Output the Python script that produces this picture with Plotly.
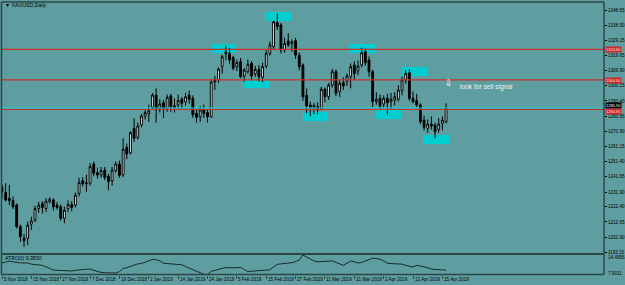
import plotly.graph_objects as go

# ---------------- data ----------------
opens = [1235.0, 1231.5, 1227.8, 1226.3, 1223.5, 1209.6, 1202.1, 1202.1, 1211.2, 1213.9,
         1221.3, 1224.5, 1221.3, 1225.6, 1226.7, 1223.5, 1222.4, 1215.0, 1221.3, 1223.8,
         1223.5, 1231.0, 1239.2, 1237.2, 1237.5, 1249.9, 1244.3, 1242.8, 1246.0, 1242.0,
         1239.2, 1245.6, 1249.9, 1242.8, 1260.6, 1257.1, 1272.8, 1267.0, 1275.0, 1280.7,
         1282.0, 1286.3, 1294.2, 1285.7, 1289.3, 1285.7, 1293.6, 1286.3, 1287.8, 1291.5,
         1289.9, 1294.2, 1292.1, 1282.4, 1280.3, 1284.6, 1282.9, 1280.3, 1303.9, 1303.9,
         1312.4, 1320.6, 1321.0, 1318.4, 1312.4, 1315.6, 1306.4, 1309.2, 1314.6, 1307.7,
         1310.7, 1305.6, 1312.8, 1321.0, 1325.2, 1340.7, 1339.2, 1323.1, 1328.9, 1327.4,
         1329.1, 1319.9, 1313.5, 1294.0, 1287.8, 1286.3, 1286.7, 1285.7, 1297.9, 1293.1,
         1300.6, 1309.2, 1296.3, 1302.2, 1302.8, 1306.0, 1313.5, 1309.8, 1313.5, 1322.1,
         1316.7, 1309.2, 1289.9, 1292.1, 1288.4, 1292.1, 1289.9, 1291.0, 1291.5, 1297.0,
         1303.9, 1308.5, 1292.1, 1290.6, 1287.8, 1278.1, 1272.8, 1275.5, 1274.9, 1272.1,
         1276.0, 1277.0]
highs = [1237.0, 1237.5, 1236.5, 1229.0, 1224.5, 1211.0, 1205.0, 1212.8, 1216.0, 1223.0,
         1225.5, 1226.0, 1228.0, 1228.5, 1228.0, 1225.5, 1224.0, 1222.5, 1226.5, 1226.0,
         1231.5, 1241.0, 1241.5, 1243.0, 1250.5, 1251.5, 1247.5, 1248.0, 1248.0, 1243.5,
         1248.0, 1251.5, 1252.0, 1266.4, 1263.0, 1271.0, 1279.3, 1276.5, 1282.0, 1284.5,
         1288.0, 1295.5, 1298.5, 1291.5, 1291.0, 1294.5, 1295.0, 1292.0, 1294.5, 1293.0,
         1295.5, 1297.0, 1294.0, 1284.5, 1287.0, 1288.0, 1285.0, 1304.0, 1306.5, 1312.0,
         1320.0, 1326.0, 1324.5, 1319.5, 1317.0, 1318.0, 1311.5, 1317.0, 1316.0, 1313.0,
         1313.5, 1315.0, 1323.0, 1328.5, 1342.0, 1346.7, 1340.5, 1331.0, 1334.0, 1330.0,
         1331.0, 1321.5, 1314.5, 1298.5, 1290.0, 1289.0, 1289.5, 1299.5, 1299.0, 1302.0,
         1311.0, 1310.5, 1304.0, 1305.5, 1308.0, 1314.5, 1316.0, 1316.5, 1324.6, 1324.0,
         1319.0, 1310.5, 1296.0, 1294.5, 1294.0, 1295.0, 1295.5, 1296.0, 1300.5, 1306.0,
         1310.3, 1311.0, 1296.5, 1295.0, 1289.0, 1281.0, 1278.5, 1280.5, 1276.5, 1279.5,
         1280.5, 1288.9]
lows = [1227.8, 1225.8, 1223.5, 1221.0, 1208.5, 1199.9, 1196.5, 1197.8, 1207.5, 1212.5,
        1218.5, 1218.0, 1219.0, 1224.5, 1220.0, 1220.5, 1213.5, 1211.8, 1219.0, 1219.5,
        1222.0, 1229.0, 1235.5, 1232.0, 1236.0, 1242.0, 1240.5, 1241.0, 1239.5, 1233.0,
        1236.0, 1244.5, 1241.0, 1241.5, 1253.0, 1256.0, 1264.0, 1265.5, 1273.5, 1278.5,
        1277.0, 1285.0, 1276.4, 1283.0, 1279.5, 1283.5, 1283.5, 1283.0, 1285.5, 1285.5,
        1287.5, 1288.5, 1279.5, 1276.5, 1277.0, 1279.5, 1276.5, 1279.5, 1297.5, 1302.0,
        1308.0, 1316.5, 1314.0, 1310.0, 1309.5, 1305.0, 1302.8, 1308.0, 1303.5, 1306.0,
        1303.0, 1302.5, 1311.5, 1319.5, 1323.5, 1336.0, 1321.0, 1321.5, 1325.0, 1322.0,
        1317.5, 1310.0, 1290.5, 1282.5, 1280.5, 1282.0, 1281.5, 1284.5, 1289.5, 1291.0,
        1299.0, 1293.5, 1293.0, 1297.5, 1300.0, 1298.5, 1304.0, 1307.0, 1312.0, 1313.0,
        1306.0, 1286.5, 1288.0, 1284.5, 1286.0, 1281.5, 1285.0, 1287.5, 1290.0, 1294.0,
        1301.5, 1290.5, 1289.0, 1286.5, 1275.5, 1271.5, 1270.0, 1272.0, 1266.4, 1270.0,
        1271.5, 1276.0]
closes = [1232.0, 1226.7, 1226.3, 1222.4, 1209.6, 1203.2, 1200.6, 1210.6, 1213.3, 1221.3,
          1223.5, 1222.0, 1226.0, 1227.3, 1222.4, 1222.0, 1215.0, 1220.2, 1223.8, 1222.0,
          1229.9, 1237.9, 1237.1, 1237.8, 1248.2, 1243.9, 1242.8, 1245.6, 1241.3, 1238.5,
          1246.0, 1249.9, 1242.6, 1259.3, 1256.3, 1270.0, 1266.4, 1274.3, 1280.7, 1282.9,
          1284.1, 1294.2, 1284.6, 1288.4, 1285.7, 1292.8, 1286.7, 1287.3, 1290.6, 1288.9,
          1293.1, 1291.5, 1281.4, 1279.9, 1284.6, 1282.4, 1280.3, 1302.5, 1302.8, 1310.9,
          1318.8, 1322.0, 1316.7, 1311.4, 1315.0, 1306.0, 1310.3, 1314.0, 1306.4, 1310.7,
          1306.0, 1312.4, 1321.0, 1326.4, 1341.3, 1338.1, 1323.1, 1327.4, 1326.4, 1328.5,
          1319.9, 1312.4, 1293.1, 1287.2, 1286.3, 1287.5, 1284.6, 1297.9, 1293.1, 1300.6,
          1309.2, 1295.3, 1301.7, 1300.0, 1306.4, 1312.4, 1308.1, 1312.8, 1321.4, 1315.0,
          1309.2, 1289.9, 1291.5, 1287.2, 1292.1, 1289.3, 1291.5, 1293.1, 1297.4, 1303.9,
          1308.1, 1292.1, 1289.9, 1287.8, 1277.0, 1273.5, 1275.5, 1274.3, 1270.6, 1275.5,
          1278.1, 1285.9]
atr = [11.8, 12.1, 12.4, 12.2, 11.9, 11.8, 11.8, 11.8, 11.4, 11.3,
       11.1, 11.0, 10.5, 9.9, 9.4, 9.3, 9.2, 9.1, 9.0, 9.1,
       9.3, 9.5, 9.6, 9.7, 9.7, 9.3, 8.8, 8.6, 8.5, 8.4,
       8.3, 8.4, 8.9, 9.9, 10.2, 10.6, 11.1, 11.5, 11.6, 12.0,
       12.4, 13.0, 12.9, 12.5, 11.7, 11.6, 11.5, 11.4, 11.4, 11.2,
       10.6, 10.0, 9.5, 9.0, 8.5, 8.0, 7.9011, 9.0, 9.3, 9.7,
       10.0, 10.2, 10.3, 10.2, 10.2, 10.3, 9.6, 8.9, 9.0, 9.1,
       9.2, 9.3, 9.4, 9.5, 10.5, 11.3, 11.5, 11.6, 11.8, 11.9,
       12.3, 12.8, 14.4956, 13.9, 13.3, 12.5, 12.2, 12.3, 12.3, 12.4,
       12.5, 12.0, 11.4, 11.0, 11.7, 12.5, 12.2, 11.8, 12.0, 12.5,
       12.9, 13.4, 13.3, 13.1, 12.5, 11.7, 11.6, 11.5, 11.4, 11.4,
       11.0, 10.7, 10.4, 11.0, 10.8, 10.5, 10.2, 9.7, 9.6, 9.4,
       9.3, 9.383]

date_tick_bars = [0, 8, 16, 24, 32, 40, 48, 56, 64, 72, 80, 88, 96, 104, 112, 120]
date_tick_text = ["5 Nov 2018", "15 Nov 2018", "27 Nov 2018", "7 Dec 2018", "19 Dec 2018",
                  "2 Jan 2019", "14 Jan 2019", "24 Jan 2019", "5 Feb 2019", "15 Feb 2019",
                  "27 Feb 2019", "11 Mar 2019", "21 Mar 2019", "2 Apr 2019", "12 Apr 2019",
                  "25 Apr 2019"]
price_ticks = [1348.65, 1338.90, 1329.15, 1319.65, 1309.90, 1300.15, 1290.40, 1280.65,
               1270.90, 1261.15, 1251.40, 1241.65, 1231.90, 1222.40, 1212.65, 1202.90, 1193.15]
level_lines = [1323.60, 1304.00, 1284.95]
atr_min, atr_max = 7.9011, 14.4956

# ---------------- geometry helpers ----------------
W, H = 625, 285
def PX(p): return p / W
def PY(p): return 1 - p / H

bar_step = 3.67      # px per bar
bar0_px = 2.0        # px of bar 0
left_px, right_px = 1.5, 604.0
top_px, main_bot_px = 2.0, 253.0
ind_top_px, ind_bot_px = 255.0, 274.5
ppp = 0.64256        # price per pixel
def price_at(py): return 1348.65 - (py - 10.3) * ppp

xr = [(left_px - bar0_px) / bar_step, (right_px - bar0_px) / bar_step]
xs = list(range(len(opens)))

BG = "#5F9EA0"
DARK = "#2c4646"
FONT = "Liberation Sans"

fig = go.Figure()
fig.add_trace(go.Candlestick(
    x=xs, open=opens, high=highs, low=lows, close=closes,
    increasing=dict(line=dict(color="black", width=1), fillcolor="white"),
    decreasing=dict(line=dict(color="black", width=1), fillcolor="black"),
    whiskerwidth=0, showlegend=False, hoverinfo="skip", xaxis="x", yaxis="y"))
fig.add_trace(go.Scatter(
    x=xs, y=atr, mode="lines", line=dict(color="#1a2a2a", width=1),
    showlegend=False, hoverinfo="skip", xaxis="x2", yaxis="y2"))

shapes = []
# cyan swing rectangles (pixel boxes converted to bar index / price)
rects = [((265, 12), (292, 21)), ((211, 44), (236, 53)), ((244, 80), (269, 88)),
         ((303, 112), (328, 121)), ((350, 44), (376, 53)), ((376, 110), (402, 119)),
         ((402, 67), (427, 76)), ((423, 135), (449, 144))]
for (x0, y0), (x1, y1) in rects:
    shapes.append(dict(type="rect", xref="x", yref="y",
                       x0=(x0 - bar0_px) / bar_step, x1=(x1 - bar0_px) / bar_step,
                       y0=price_at(y0), y1=price_at(y1),
                       fillcolor="#00CED1", line=dict(width=0), layer="below"))
# horizontal level lines
for lv in level_lines:
    shapes.append(dict(type="line", xref="paper", yref="y", x0=PX(left_px), x1=PX(right_px),
                       y0=lv, y1=lv, line=dict(color="#c8302a", width=1.2)))
# bid line
shapes.append(dict(type="line", xref="paper", yref="y", x0=PX(left_px), x1=PX(right_px),
                   y0=closes[-1], y1=closes[-1], line=dict(color="#10d8e0", width=1)))
# frame
for (xa, ya, xb, yb, w) in [(left_px, top_px, right_px, top_px, 1.5),
                            (left_px, top_px, left_px, ind_bot_px, 1.5),
                            (right_px, top_px, right_px, ind_bot_px, 1.5),
                            (left_px, 254.0, right_px, 254.0, 2.2),
                            (left_px, ind_bot_px, right_px, ind_bot_px, 1.5)]:
    shapes.append(dict(type="line", xref="paper", yref="paper",
                       x0=PX(xa), y0=PY(ya), x1=PX(xb), y1=PY(yb),
                       line=dict(color=DARK, width=w)))

ann = []
ann.append(dict(text="▼ XAUUSD,Daily", x=PX(2.5), y=PY(5.5), xref="paper", yref="paper",
                xanchor="left", yanchor="middle", showarrow=False,
                font=dict(family=FONT, size=5.2, color="black")))
ann.append(dict(text="ATR(10) 9.3830", x=PX(2.5), y=PY(257.8), xref="paper", yref="paper",
                xanchor="left", yanchor="middle", showarrow=False,
                font=dict(family=FONT, size=5.2, color="black")))
ann.append(dict(text="⇩", x=PX(448.5), y=PY(82.5), xref="paper", yref="paper",
                xanchor="center", yanchor="middle", showarrow=False,
                font=dict(family="DejaVu Sans", size=9, color="white")))
ann.append(dict(text="look for sell signal", x=PX(457.5), y=PY(86.8), xref="paper", yref="paper",
                xanchor="left", yanchor="middle", showarrow=False,
                font=dict(family=FONT, size=6.6, color="#eef4f4")))
# bid price box (above) and level boxes
ann.append(dict(text=f"{closes[-1]:.2f}", x=PX(604.5), y=PY(105.9), xref="paper", yref="paper",
                xanchor="left", yanchor="middle", showarrow=False, bgcolor="black",
                borderpad=0, font=dict(family=FONT, size=4.0, color="white")))
level_box_px = [49.3, 80.0, 111.0]
for lv, bpx in zip(level_lines, level_box_px):
    ann.append(dict(text=f"{lv:.2f}", x=PX(604.5), y=PY(bpx), xref="paper", yref="paper",
                    xanchor="left", yanchor="middle", showarrow=False, bgcolor="#cc2a2a",
                    borderpad=0, font=dict(family=FONT, size=4.0, color="#ffe0e0")))
ann.append(dict(text=f"{atr_max:.4f}", x=PX(605.5), y=PY(257.3), xref="paper", yref="paper",
                xanchor="left", yanchor="middle", showarrow=False,
                font=dict(family=FONT, size=4.6, color="black")))
ann.append(dict(text=f"{atr_min:.4f}", x=PX(605.5), y=PY(273.3), xref="paper", yref="paper",
                xanchor="left", yanchor="middle", showarrow=False,
                font=dict(family=FONT, size=4.6, color="black")))
for b, t in zip(date_tick_bars, date_tick_text):
    ann.append(dict(text=t, x=b, y=PY(279.5), xref="x2", yref="paper",
                    xanchor="left", yanchor="middle", xshift=-0.5, showarrow=False,
                    font=dict(family=FONT, size=4.6, color="black")))

fig.update_layout(
    width=W, height=H, margin=dict(l=0, r=0, t=0, b=0),
    paper_bgcolor=BG, plot_bgcolor=BG, showlegend=False,
    boxgap=0.3,
    xaxis=dict(domain=[PX(left_px), PX(right_px)], range=xr, anchor="y",
               showticklabels=False, ticks="", showgrid=False, zeroline=False,
               showline=False, rangeslider=dict(visible=False), fixedrange=True),
    yaxis=dict(domain=[PY(main_bot_px), PY(top_px)], range=[price_at(main_bot_px), price_at(top_px)],
               anchor="x", side="right", showgrid=False, zeroline=False, showline=False,
               tickmode="array", tickvals=price_ticks, ticktext=[f"{v:.2f}" for v in price_ticks],
               ticks="outside", ticklen=2, tickwidth=1, tickcolor="black",
               tickfont=dict(family=FONT, size=4.6, color="black"), automargin=False),
    xaxis2=dict(domain=[PX(left_px), PX(right_px)], range=xr, anchor="y2", matches="x",
                showticklabels=False, tickmode="array", tickvals=date_tick_bars,
                ticks="outside", ticklen=3, tickwidth=1, tickcolor=DARK,
                showgrid=False, zeroline=False, showline=False),
    yaxis2=dict(domain=[PY(ind_bot_px), PY(ind_top_px)], range=[atr_min, atr_max],
                anchor="x2", showticklabels=False, ticks="", showgrid=False,
                zeroline=False, showline=False),
    shapes=shapes, annotations=ann,
)

fig.write_html("out.html")
